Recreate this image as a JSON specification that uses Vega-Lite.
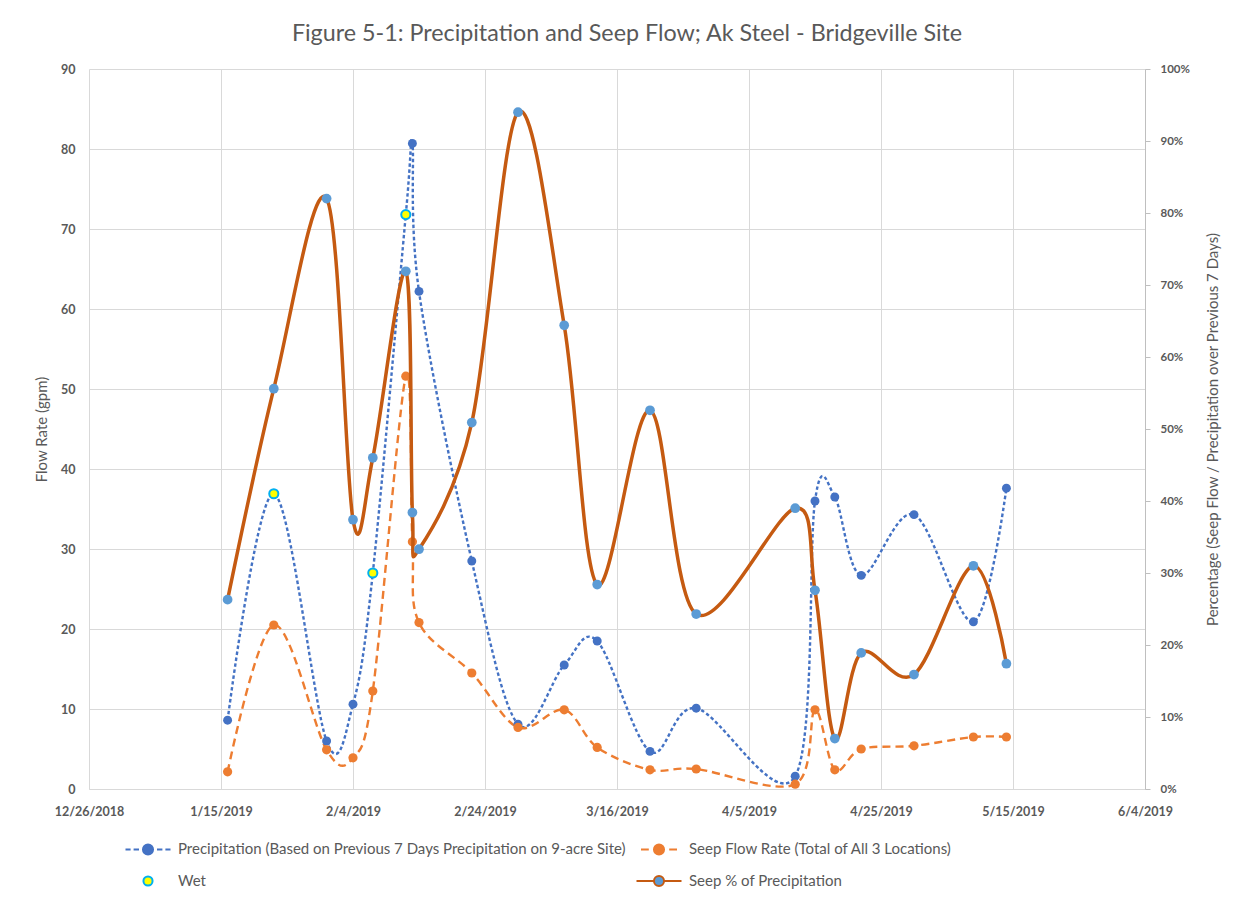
{
  "$schema": "https://vega.github.io/schema/vega-lite/v6.json",
  "width": 1056,
  "height": 720,
  "autosize": {"type": "none"},
  "padding": {"left": 89, "top": 69, "right": 95, "bottom": 109},
  "background": "white",
  "config": {
    "font": "Lato",
    "view": {"stroke": null},
    "axis": {"labelColor": "#595959", "titleColor": "#595959", "labelFont": "Lato", "titleFont": "Lato", "gridColor": "#D9D9D9", "gridWidth": 1, "domainColor": "#BFBFBF", "tickColor": "#BFBFBF"}
  },
  "title": {"text": "Figure 5-1: Precipitation and Seep Flow; Ak Steel - Bridgeville Site", "fontSize": 23.3, "font": "Lato", "fontWeight": "normal", "color": "#595959", "anchor": "middle", "offset": 17, "dx": 10},
  "data": {"values": [
    {"d": "2019-01-16", "s": "P", "v": 8.6}, {"d": "2019-01-16", "s": "F", "v": 2.15}, {"d": "2019-01-16", "s": "S", "v": 0.263},
    {"d": "2019-01-23", "s": "P", "v": 36.9}, {"d": "2019-01-23", "s": "F", "v": 20.5}, {"d": "2019-01-23", "s": "S", "v": 0.556}, {"d": "2019-01-23", "s": "W", "v": 36.9},
    {"d": "2019-01-31", "s": "P", "v": 6.0}, {"d": "2019-01-31", "s": "F", "v": 4.9}, {"d": "2019-01-31", "s": "S", "v": 0.82},
    {"d": "2019-02-04", "s": "P", "v": 10.6}, {"d": "2019-02-04", "s": "F", "v": 3.9}, {"d": "2019-02-04", "s": "S", "v": 0.374},
    {"d": "2019-02-07", "s": "P", "v": 27.0}, {"d": "2019-02-07", "s": "F", "v": 12.25}, {"d": "2019-02-07", "s": "S", "v": 0.46}, {"d": "2019-02-07", "s": "W", "v": 27.0},
    {"d": "2019-02-12", "s": "P", "v": 71.8}, {"d": "2019-02-12", "s": "F", "v": 51.6}, {"d": "2019-02-12", "s": "S", "v": 0.719}, {"d": "2019-02-12", "s": "W", "v": 71.8},
    {"d": "2019-02-13", "s": "P", "v": 80.7}, {"d": "2019-02-13", "s": "F", "v": 30.9}, {"d": "2019-02-13", "s": "S", "v": 0.384},
    {"d": "2019-02-14", "s": "P", "v": 62.2}, {"d": "2019-02-14", "s": "F", "v": 20.8}, {"d": "2019-02-14", "s": "S", "v": 0.333},
    {"d": "2019-02-22", "s": "P", "v": 28.5}, {"d": "2019-02-22", "s": "F", "v": 14.5}, {"d": "2019-02-22", "s": "S", "v": 0.509},
    {"d": "2019-03-01", "s": "P", "v": 8.1}, {"d": "2019-03-01", "s": "F", "v": 7.7}, {"d": "2019-03-01", "s": "S", "v": 0.94},
    {"d": "2019-03-08", "s": "P", "v": 15.5}, {"d": "2019-03-08", "s": "F", "v": 9.9}, {"d": "2019-03-08", "s": "S", "v": 0.644},
    {"d": "2019-03-13", "s": "P", "v": 18.5}, {"d": "2019-03-13", "s": "F", "v": 5.2}, {"d": "2019-03-13", "s": "S", "v": 0.284},
    {"d": "2019-03-21", "s": "P", "v": 4.7}, {"d": "2019-03-21", "s": "F", "v": 2.4}, {"d": "2019-03-21", "s": "S", "v": 0.526},
    {"d": "2019-03-28", "s": "P", "v": 10.1}, {"d": "2019-03-28", "s": "F", "v": 2.5}, {"d": "2019-03-28", "s": "S", "v": 0.243},
    {"d": "2019-04-12", "s": "P", "v": 1.6}, {"d": "2019-04-12", "s": "F", "v": 0.6}, {"d": "2019-04-12", "s": "S", "v": 0.39},
    {"d": "2019-04-15", "s": "P", "v": 36.0}, {"d": "2019-04-15", "s": "F", "v": 9.9}, {"d": "2019-04-15", "s": "S", "v": 0.276},
    {"d": "2019-04-18", "s": "P", "v": 36.5}, {"d": "2019-04-18", "s": "F", "v": 2.4}, {"d": "2019-04-18", "s": "S", "v": 0.07},
    {"d": "2019-04-22", "s": "P", "v": 26.7}, {"d": "2019-04-22", "s": "F", "v": 5.0}, {"d": "2019-04-22", "s": "S", "v": 0.189},
    {"d": "2019-04-30", "s": "P", "v": 34.3}, {"d": "2019-04-30", "s": "F", "v": 5.4}, {"d": "2019-04-30", "s": "S", "v": 0.159},
    {"d": "2019-05-09", "s": "P", "v": 20.9}, {"d": "2019-05-09", "s": "F", "v": 6.5}, {"d": "2019-05-09", "s": "S", "v": 0.31},
    {"d": "2019-05-14", "s": "P", "v": 37.6}, {"d": "2019-05-14", "s": "F", "v": 6.5}, {"d": "2019-05-14", "s": "S", "v": 0.174}
  ]},
  "encoding": {
    "x": {
      "field": "d", "type": "temporal",
      "scale": {"type": "utc", "domain": [{"year": 2018, "month": 12, "date": 26, "utc": true}, {"year": 2019, "month": 6, "date": 4, "utc": true}]},
      "axis": {
        "values": [
          {"year": 2018, "month": 12, "date": 26, "utc": true},
          {"year": 2019, "month": 1, "date": 15, "utc": true},
          {"year": 2019, "month": 2, "date": 4, "utc": true},
          {"year": 2019, "month": 2, "date": 24, "utc": true},
          {"year": 2019, "month": 3, "date": 16, "utc": true},
          {"year": 2019, "month": 4, "date": 5, "utc": true},
          {"year": 2019, "month": 4, "date": 25, "utc": true},
          {"year": 2019, "month": 5, "date": 15, "utc": true},
          {"year": 2019, "month": 6, "date": 4, "utc": true}
        ],
        "format": "%-m/%-d/%Y", "labelFontSize": 12.5, "labelFontWeight": "bold", "labelPadding": 16,
        "ticks": false, "domain": true, "domainColor": "#D9D9D9", "grid": true, "title": null, "labelFlush": false, "labelOverlap": false
      }
    }
  },
  "layer": [
    {
      "encoding": {
        "y": {"field": "v", "type": "quantitative", "scale": {"domain": [0, 90], "nice": false},
          "axis": {"values": [0, 10, 20, 30, 40, 50, 60, 70, 80, 90], "title": "Flow Rate (gpm)", "titleFontSize": 15, "titleFontWeight": "normal", "titlePadding": 11,
            "labelFontWeight": "bold", "labelFontSize": 12.5, "labelPadding": 14, "ticks": false, "domain": false, "grid": true}}
      },
      "layer": [
        {"transform": [{"filter": "datum.s == 'P'"}], "mark": {"type": "line", "color": "#4472C4", "strokeWidth": 2.4, "strokeDash": [3.5, 2.5], "interpolate": "cardinal"}},
        {"transform": [{"filter": "datum.s == 'F'"}], "mark": {"type": "line", "color": "#ED7D31", "strokeWidth": 2.4, "strokeDash": [8, 5], "interpolate": "cardinal"}},
        {"transform": [{"filter": "datum.s == 'P'"}], "mark": {"type": "point", "filled": true, "color": "#4472C4", "size": 80, "opacity": 1}},
        {"transform": [{"filter": "datum.s == 'F'"}], "mark": {"type": "point", "filled": true, "color": "#ED7D31", "size": 85, "opacity": 1}},
        {"transform": [{"filter": "datum.s == 'W'"}], "mark": {"type": "point", "filled": true, "strokeWidth": 2, "size": 576, "opacity": 1},
          "encoding": {
            "color": {"field": "s", "type": "nominal",
              "scale": {"domain": ["P", "F", "W", "S"], "range": ["#4472C4", "#ED7D31", "#FFFF00", "#5B9BD5"]},
              "legend": {"orient": "none", "legendX": 46, "legendY": 767, "columns": 2, "direction": "horizontal", "title": null, "padding": 0,
                "labelExpr": "datum.value == 'P' ? 'Precipitation (Based on Previous 7 Days Precipitation on 9-acre Site)' : datum.value == 'F' ? 'Seep Flow Rate (Total of All 3 Locations)' : datum.value == 'W' ? 'Wet' : 'Seep % of Precipitation'",
                "labelFont": "Lato", "labelFontSize": 15, "labelColor": "#595959", "labelLimit": 800,
                "symbolSize": 576, "symbolStrokeWidth": 2, "labelOffset": 17, "columnPadding": 6, "rowPadding": 9, "symbolOpacity": 1}},
            "stroke": {"field": "s", "type": "nominal",
              "scale": {"domain": ["P", "F", "W", "S"], "range": ["#4472C4", "#ED7D31", "#00B0F0", "#C55A11"]},
              "legend": {"orient": "none", "legendX": 46, "legendY": 767, "columns": 2, "direction": "horizontal", "title": null, "padding": 0,
                "labelExpr": "datum.value == 'P' ? 'Precipitation (Based on Previous 7 Days Precipitation on 9-acre Site)' : datum.value == 'F' ? 'Seep Flow Rate (Total of All 3 Locations)' : datum.value == 'W' ? 'Wet' : 'Seep % of Precipitation'",
                "labelFont": "Lato", "labelFontSize": 15, "labelColor": "#595959", "labelLimit": 800,
                "symbolSize": 576, "symbolStrokeWidth": 2, "labelOffset": 17, "columnPadding": 6, "rowPadding": 9, "symbolOpacity": 1}},
            "shape": {"field": "s", "type": "nominal",
              "scale": {"domain": ["P", "F", "W", "S"], "range": [
                "M-1.875,0H-1.45M-1.2,0H-0.75M0.75,0H1.2M1.45,0H1.875M-0.42,0A0.42,0.42,0,1,1,0.42,0A0.42,0.42,0,1,1,-0.42,0Z",
                "M-1.5,0H-0.85M0.85,0H1.5M-0.42,0A0.42,0.42,0,1,1,0.42,0A0.42,0.42,0,1,1,-0.42,0Z",
                "M-0.38,0A0.38,0.38,0,1,1,0.38,0A0.38,0.38,0,1,1,-0.38,0Z",
                "M-1.875,0H-0.42M0.42,0H1.875M-0.42,0A0.42,0.42,0,1,1,0.42,0A0.42,0.42,0,1,1,-0.42,0Z"
              ]},
              "legend": {"orient": "none", "legendX": 46, "legendY": 767, "columns": 2, "direction": "horizontal", "title": null, "padding": 0,
                "labelExpr": "datum.value == 'P' ? 'Precipitation (Based on Previous 7 Days Precipitation on 9-acre Site)' : datum.value == 'F' ? 'Seep Flow Rate (Total of All 3 Locations)' : datum.value == 'W' ? 'Wet' : 'Seep % of Precipitation'",
                "labelFont": "Lato", "labelFontSize": 15, "labelColor": "#595959", "labelLimit": 800,
                "symbolSize": 576, "symbolStrokeWidth": 2, "labelOffset": 17, "columnPadding": 6, "rowPadding": 9, "symbolOpacity": 1}}
          }
        }
      ]
    },
    {
      "encoding": {
        "y": {"field": "v", "type": "quantitative", "scale": {"domain": [0, 1], "nice": false},
          "axis": {"orient": "right", "values": [0, 0.1, 0.2, 0.3, 0.4, 0.5, 0.6, 0.7, 0.8, 0.9, 1], "format": ".0%",
            "title": "Percentage (Seep Flow / Precipitation over Previous 7 Days)", "titleAngle": 270, "titleFontSize": 15, "titleFontWeight": "normal", "titlePadding": 31,
            "labelFontWeight": "bold", "labelFontSize": 11.5, "labelPadding": 10, "ticks": true, "tickSize": 5, "domain": true, "grid": false}}
      },
      "layer": [
        {"transform": [{"filter": "datum.s == 'S'"}], "mark": {"type": "line", "color": "#C55A11", "strokeWidth": 3.5, "interpolate": "cardinal"}},
        {"transform": [{"filter": "datum.s == 'S'"}], "mark": {"type": "point", "filled": true, "color": "#5B9BD5", "size": 95, "opacity": 1}}
      ]
    }
  ],
  "resolve": {"scale": {"y": "independent"}}
}
